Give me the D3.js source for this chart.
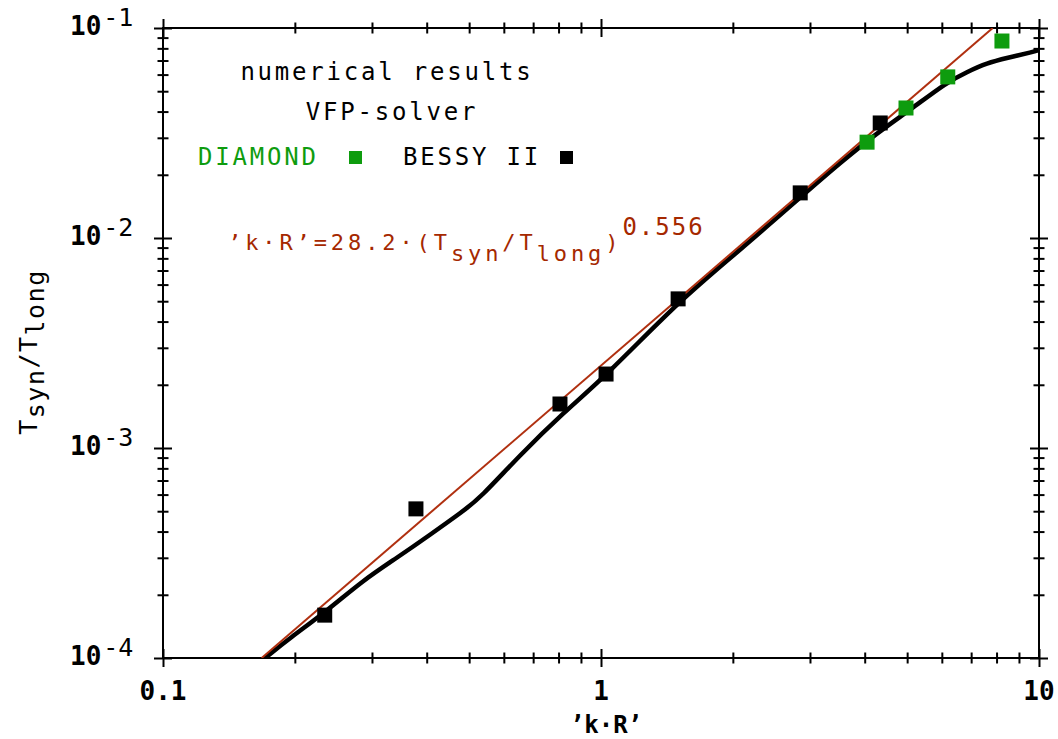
<!DOCTYPE html>
<html>
<head>
<meta charset="utf-8">
<script src="https://cdn.jsdelivr.net/npm/d3@7"></script>
<style>
  body { margin: 0; background: #fff; }
  text { font-family: "DejaVu Sans Mono", monospace; }
</style>
</head>
<body>
<div id="chart"></div>
<script>
var width = 1058;
var height = 739;

// BESSY II points
var bessyKR = [0.234, 0.378, 0.806, 1.027, 1.50, 2.85, 4.34];
var bessyT = [1.60e-4, 5.13e-4, 1.62e-3, 2.25e-3, 5.13e-3, 1.64e-2, 3.53e-2];
// DIAMOND points
var diamondKR = [4.05, 4.97, 6.19, 8.23];
var diamondT = [2.86e-2, 4.16e-2, 5.85e-2, 8.67e-2];
// VFP-solver curve
var solverKR = [0.171, 0.195, 0.237, 0.286, 0.342, 0.407, 0.484, 0.529, 0.653, 0.819, 1.032, 1.515, 2.077, 2.892, 3.513, 4.268, 5.077, 6.166, 6.847, 7.607, 8.453, 9.69, 10];
var solverT = [1.0e-4, 1.245e-4, 1.68e-4, 2.34e-4, 3.0e-4, 3.86e-4, 5.0e-4, 5.76e-4, 9.26e-4, 1.468e-3, 2.227e-3, 5.07e-3, 8.75e-3, 1.602e-2, 2.276e-2, 3.162e-2, 4.07e-2, 5.53e-2, 6.17e-2, 6.81e-2, 7.20e-2, 7.69e-2, 7.86e-2];
// fit line  'k·R'=28.2·(Tsyn/Tlong)^0.556
var fitKR = [0.168, 7.84];
var fitT = [1e-4, 1e-1];

var xTickLabels = ["0.1", "1", "10"];
var xTickVals = [0.1, 1, 10];
var yTickExp = ["-1", "-2", "-3", "-4"];
var yTickVals = [1e-1, 1e-2, 1e-3, 1e-4];

var green = "#0e9c0e";
var red = "#b03010";
var redText = "#a52800";

var x = d3.scaleLog().domain([0.1, 10]).range([163, 1039]);
var y = d3.scaleLog().domain([1e-4, 1e-1]).range([658, 28]);

var svg = d3.select("#chart")
    .append("svg")
    .attr("width", width)
    .attr("height", height);

// minor + major tick values
var xTicks = [];
[0.1, 1].forEach(function(d){
    for (var i = 1; i < 10; i++) xTicks.push(d * i);
});
xTicks.push(10);
var yTicks = [];
[1e-4, 1e-3, 1e-2].forEach(function(d){
    for (var i = 1; i < 10; i++) yTicks.push(d * i);
});
yTicks.push(1e-1);

function isMajor(v){
    var l = Math.log10(v);
    return Math.abs(l - Math.round(l)) < 1e-6;
}

function styleAxis(g, horizontal){
    g.select(".domain").remove();
    g.selectAll(".tick line")
        .attr("stroke", "#000")
        .attr("stroke-width", 2)
        .each(function(d){
            var s = isMajor(d) ? 9 : 5.5;
            if (horizontal) d3.select(this).attr("y1", -s).attr("y2", s);
            else d3.select(this).attr("x1", -s).attr("x2", s);
        });
    g.selectAll(".tick text").remove();
}

svg.append("g").attr("transform", "translate(0,658)")
    .call(d3.axisBottom(x).tickValues(xTicks).tickFormat(""))
    .call(styleAxis, true);
svg.append("g").attr("transform", "translate(0,28)")
    .call(d3.axisTop(x).tickValues(xTicks).tickFormat(""))
    .call(styleAxis, true);
svg.append("g").attr("transform", "translate(163,0)")
    .call(d3.axisLeft(y).tickValues(yTicks).tickFormat(""))
    .call(styleAxis, false);
svg.append("g").attr("transform", "translate(1039,0)")
    .call(d3.axisRight(y).tickValues(yTicks).tickFormat(""))
    .call(styleAxis, false);

// frame
svg.append("rect")
    .attr("x", x(0.1)).attr("y", y(1e-1))
    .attr("width", x(10) - x(0.1)).attr("height", y(1e-4) - y(1e-1))
    .attr("fill", "none").attr("stroke", "#000").attr("stroke-width", 2);

// tick labels
svg.selectAll(".xlab")
    .data(xTickVals)
    .enter()
    .append("text")
    .attr("class", "xlab")
    .attr("x", function(d){ return x(d); })
    .attr("y", 700)
    .attr("text-anchor", "middle")
    .attr("font-size", "26px")
    .attr("font-weight", "bold")
    .text(function(d, i){ return xTickLabels[i]; });

var ylab = svg.selectAll(".ylab")
    .data(yTickVals)
    .enter()
    .append("text")
    .attr("class", "ylab")
    .attr("x", 70)
    .attr("y", function(d){ return y(d) + 7; })
    .attr("font-size", "26px");
ylab.append("tspan").attr("font-weight", "bold").text("10");
ylab.append("tspan")
    .attr("dy", -9)
    .attr("dx", 2)
    .attr("font-size", "25px")
    .text(function(d, i){ return yTickExp[i]; });

// axis titles
svg.append("text")
    .attr("x", 606).attr("y", 733)
    .attr("text-anchor", "middle")
    .attr("font-size", "24px")
    .attr("font-weight", "bold")
    .text("\u2019k\u00b7R\u2019");

var ytitle = svg.append("text")
    .attr("transform", "translate(37,352) rotate(-90)")
    .attr("text-anchor", "middle")
    .attr("font-size", "25px")
    .attr("letter-spacing", "1.5px");
ytitle.append("tspan").text("T");
ytitle.append("tspan").attr("dy", 7).text("syn");
ytitle.append("tspan").attr("dy", -7).text("/T");
ytitle.append("tspan").attr("dy", 7).text("long");

// clip
svg.append("clipPath").attr("id", "plot")
    .append("rect")
    .attr("x", x(0.1)).attr("y", y(1e-1))
    .attr("width", x(10) - x(0.1)).attr("height", y(1e-4) - y(1e-1));

var plot = svg.append("g").attr("clip-path", "url(#plot)");

var solver = solverKR.map(function(d, i){ return [d, solverT[i]]; });
plot.append("path")
    .datum(solver)
    .attr("d", d3.line()
        .x(function(d){ return x(d[0]); })
        .y(function(d){ return y(d[1]); })
        .curve(d3.curveBasis))
    .attr("fill", "none")
    .attr("stroke", "#000")
    .attr("stroke-width", 4.5);

var fit = fitKR.map(function(d, i){ return [d, fitT[i]]; });
plot.append("path")
    .datum(fit)
    .attr("d", d3.line()
        .x(function(d){ return x(d[0]); })
        .y(function(d){ return y(d[1]); }))
    .attr("fill", "none")
    .attr("stroke", red)
    .attr("stroke-width", 2);

var sq = 15;
svg.selectAll(".bessy")
    .data(bessyKR)
    .enter()
    .append("rect")
    .attr("class", "bessy")
    .attr("x", function(d){ return x(d) - sq / 2; })
    .attr("y", function(d, i){ return y(bessyT[i]) - sq / 2; })
    .attr("width", sq).attr("height", sq)
    .attr("fill", "#000");

svg.selectAll(".diamond")
    .data(diamondKR)
    .enter()
    .append("rect")
    .attr("class", "diamond")
    .attr("x", function(d){ return x(d) - sq / 2; })
    .attr("y", function(d, i){ return y(diamondT[i]) - sq / 2; })
    .attr("width", sq).attr("height", sq)
    .attr("fill", green);

// annotations
svg.append("text")
    .attr("x", 387).attr("y", 80)
    .attr("text-anchor", "middle")
    .attr("font-size", "24px")
    .attr("letter-spacing", "2.8px")
    .text("numerical results");
svg.append("text")
    .attr("x", 392).attr("y", 120)
    .attr("text-anchor", "middle")
    .attr("font-size", "24px")
    .attr("letter-spacing", "2.8px")
    .text("VFP-solver");

svg.append("text")
    .attr("x", 198).attr("y", 165)
    .attr("font-size", "24px")
    .attr("letter-spacing", "2.8px")
    .attr("fill", green)
    .text("DIAMOND");
svg.append("rect")
    .attr("x", 349).attr("y", 151).attr("width", 13).attr("height", 13)
    .attr("fill", green);
svg.append("text")
    .attr("x", 403).attr("y", 165)
    .attr("font-size", "24px")
    .attr("letter-spacing", "2.8px")
    .text("BESSY II");
svg.append("rect")
    .attr("x", 560).attr("y", 151).attr("width", 13).attr("height", 13)
    .attr("fill", "#000");

var formula = svg.append("text")
    .attr("x", 228).attr("y", 250)
    .attr("font-size", "22px")
    .attr("letter-spacing", "3.9px")
    .attr("fill", redText);
formula.append("tspan").text("\u2019k\u00b7R\u2019=28.2\u00b7(T");
formula.append("tspan").attr("dy", 11).text("syn");
formula.append("tspan").attr("dy", -11).text("/T");
formula.append("tspan").attr("dy", 11).text("long");
formula.append("tspan").attr("dy", -11).text(")");
formula.append("tspan").attr("dy", -15).attr("font-size", "24px").attr("letter-spacing", "2px").text("0.556");
</script>
</body>
</html>
